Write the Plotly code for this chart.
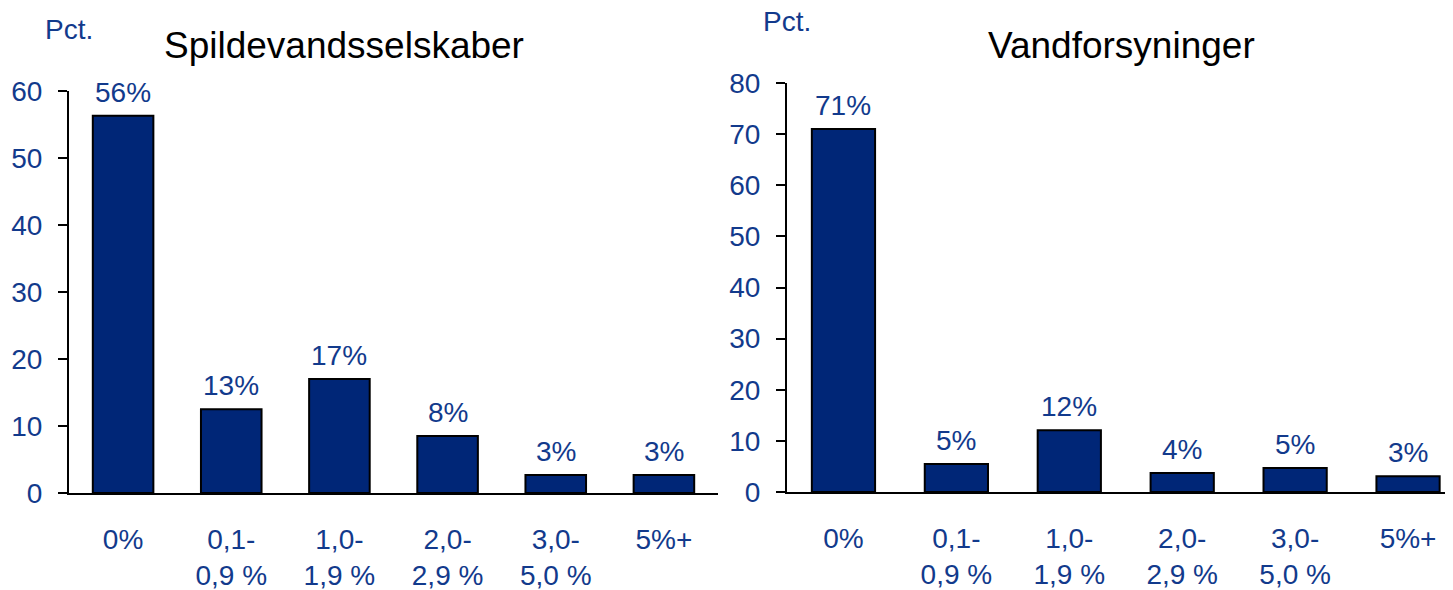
import plotly.graph_objects as go

categories = ["0%", "0,1-<br>0,9 %", "1,0-<br>1,9 %", "2,0-<br>2,9 %", "3,0-<br>5,0 %", "5%+"]

spild_values = [56.3, 12.5, 17.0, 8.5, 2.7, 2.7]
spild_labels = ["56%", "13%", "17%", "8%", "3%", "3%"]

vand_values = [71.0, 5.5, 12.1, 3.7, 4.7, 3.1]
vand_labels = ["71%", "5%", "12%", "4%", "5%", "3%"]

left_ticks = [0, 10, 20, 30, 40, 50, 60]
right_ticks = [0, 10, 20, 30, 40, 50, 60, 70, 80]

W, H = 1453, 590
OFF = 8  # page body margin offset
BLUE_TXT = "#123a8c"
BAR = "#002677"
FONT = "Liberation Sans, Arial, sans-serif"

def px(x):
    return (x - OFF) / W

def py(y):
    return (H - (y - OFF)) / H

fig = go.Figure()
fig.add_trace(go.Bar(x=categories, y=spild_values, xaxis="x", yaxis="y",
                     marker=dict(color=BAR, line=dict(color="black", width=2)),
                     hoverinfo="skip"))
fig.add_trace(go.Bar(x=categories, y=vand_values, xaxis="x2", yaxis="y2",
                     marker=dict(color=BAR, line=dict(color="black", width=2)),
                     hoverinfo="skip"))

annotations = []
for c, v, t in zip(categories, spild_values, spild_labels):
    annotations.append(dict(x=c, y=v, xref="x", yref="y", text=t, showarrow=False,
                            yanchor="bottom", yshift=6,
                            font=dict(family=FONT, size=28, color=BLUE_TXT)))
for c, v, t in zip(categories, vand_values, vand_labels):
    annotations.append(dict(x=c, y=v, xref="x2", yref="y2", text=t, showarrow=False,
                            yanchor="bottom", yshift=6,
                            font=dict(family=FONT, size=28, color=BLUE_TXT)))

annotations += [
    dict(x=px(162), y=py(46), xref="paper", yref="paper", text="Spildevandsselskaber",
         showarrow=False, xanchor="left", yanchor="middle",
         font=dict(family=FONT, size=37, color="black")),
    dict(x=px(986), y=py(45), xref="paper", yref="paper", text="Vandforsyninger",
         showarrow=False, xanchor="left", yanchor="middle",
         font=dict(family=FONT, size=37, color="black")),
    dict(x=px(43), y=py(30), xref="paper", yref="paper", text="Pct.",
         showarrow=False, xanchor="left", yanchor="middle",
         font=dict(family=FONT, size=28, color=BLUE_TXT)),
    dict(x=px(761), y=py(22), xref="paper", yref="paper", text="Pct.",
         showarrow=False, xanchor="left", yanchor="middle",
         font=dict(family=FONT, size=28, color=BLUE_TXT)),
]

xcommon = dict(showline=True, linecolor="black", linewidth=2, showgrid=False,
               zeroline=False, ticks="", ticklabelstandoff=20,
               tickfont=dict(family=FONT, size=28, color=BLUE_TXT), automargin=False,
               fixedrange=True)
ycommon = dict(showline=True, linecolor="black", linewidth=2, showgrid=False,
               zeroline=False, ticks="outside", ticklen=9, tickwidth=2, tickcolor="black",
               ticklabelstandoff=10,
               tickfont=dict(family=FONT, size=28, color=BLUE_TXT), automargin=False,
               fixedrange=True)

fig.update_layout(
    width=W, height=H,
    margin=dict(l=0, r=0, t=0, b=0),
    paper_bgcolor="white", plot_bgcolor="white",
    showlegend=False, bargap=0.44,
    font=dict(family=FONT),
    xaxis=dict(domain=[px(69), px(718)], range=[-0.5, 5.5], anchor="y", **xcommon),
    yaxis=dict(domain=[py(493), py(91)], range=[0, 60], tickvals=left_ticks,
               anchor="x", **ycommon),
    xaxis2=dict(domain=[px(787), 1.0], range=[-0.5, 5.469], anchor="y2", **xcommon),
    yaxis2=dict(domain=[py(492), py(83)], range=[0, 80], tickvals=right_ticks,
                anchor="x2", **ycommon),
    annotations=annotations,
)

fig.write_html("out.html")
